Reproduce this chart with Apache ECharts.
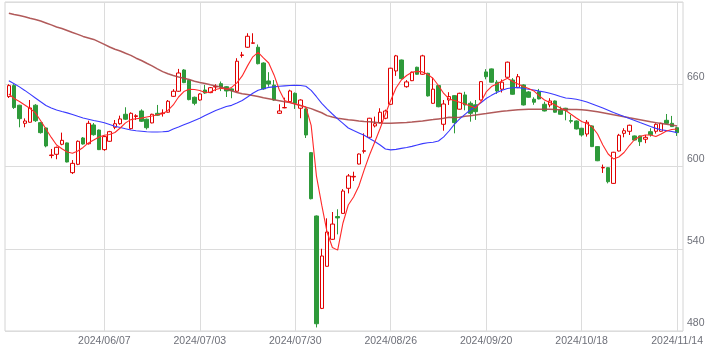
<!DOCTYPE html>
<html>
<head>
<meta charset="utf-8">
<script src="https://cdn.jsdelivr.net/npm/echarts@6/dist/echarts.min.js"></script>
<style>
html,body{margin:0;padding:0;background:#fff;}
#c{width:724px;height:358px;}
</style>
</head>
<body>
<div id="c"></div>
<script>
const dates = [
'2024/05/14','2024/05/15','2024/05/16','2024/05/17','2024/05/20','2024/05/21','2024/05/22','2024/05/23','2024/05/24','2024/05/27',
'2024/05/28','2024/05/29','2024/05/30','2024/05/31','2024/06/03','2024/06/04','2024/06/05','2024/06/06','2024/06/07','2024/06/10',
'2024/06/11','2024/06/12','2024/06/13','2024/06/14','2024/06/17','2024/06/18','2024/06/19','2024/06/20','2024/06/21','2024/06/24',
'2024/06/25','2024/06/26','2024/06/27','2024/06/28','2024/07/01','2024/07/02','2024/07/03','2024/07/04','2024/07/05','2024/07/08',
'2024/07/09','2024/07/10','2024/07/11','2024/07/12','2024/07/16','2024/07/17','2024/07/18','2024/07/19','2024/07/22','2024/07/23',
'2024/07/24','2024/07/25','2024/07/26','2024/07/29','2024/07/30','2024/07/31','2024/08/01','2024/08/02','2024/08/05','2024/08/06',
'2024/08/07','2024/08/08','2024/08/09','2024/08/13','2024/08/14','2024/08/15','2024/08/16','2024/08/19','2024/08/20','2024/08/21',
'2024/08/22','2024/08/23','2024/08/26','2024/08/27','2024/08/28','2024/08/29','2024/08/30','2024/09/02','2024/09/03','2024/09/04',
'2024/09/05','2024/09/06','2024/09/09','2024/09/10','2024/09/11','2024/09/12','2024/09/13','2024/09/17','2024/09/18','2024/09/19',
'2024/09/20','2024/09/24','2024/09/25','2024/09/26','2024/09/27','2024/09/30','2024/10/01','2024/10/02','2024/10/03','2024/10/04',
'2024/10/07','2024/10/08','2024/10/09','2024/10/10','2024/10/11','2024/10/15','2024/10/16','2024/10/17','2024/10/18','2024/10/21',
'2024/10/22','2024/10/23','2024/10/24','2024/10/25','2024/10/28','2024/10/29','2024/10/30','2024/10/31','2024/11/01','2024/11/05',
'2024/11/06','2024/11/07','2024/11/08','2024/11/11','2024/11/12','2024/11/13','2024/11/14'
];
const tickLabels = ['2024/06/07','2024/07/03','2024/07/30','2024/08/26','2024/09/20','2024/10/18','2024/11/14'];
const priceTicks = [480, 540, 600, 660, 720];

const opens = [
651,659,644.7,631.5,632.3,644.7,632,628.1,608,608.9,
616.2,617.2,595.5,601.6,620.8,616.6,630.3,626.6,612.3,618.4,
628.6,631.2,638.1,627.6,636.5,640.5,634.5,631.8,638.8,638.6,
639.6,651.2,654.9,670.4,662.9,650.5,648.5,655.8,653.9,658,
660.4,658.2,656.6,654.9,681,687,689.9,687,675.5,662.4,
659.3,638.8,642.8,647.3,653.4,642.5,642,610.1,563.9,496.5,
527.2,546.9,563.5,565.8,584.1,592.4,601.8,611.1,621.3,629.6,
632,635.2,645.4,669.7,677.7,658.2,662.6,672.4,667.3,668,
646.1,659,630.8,648.5,651.7,641.8,652.2,646.1,645,648.5,
669,671.2,661.5,656.4,665.1,663.1,657.5,659.5,654.4,649.1,
654.6,645.4,644.9,647.8,641,642.5,633.5,633.2,627.9,623.7,
629.6,614.5,599,599.1,587.7,611.3,624.2,625.7,622.3,622.3,
619.9,625.4,625.7,625.7,633.7,631.5,628.3
];
const closes = [
659,643,634.9,633.2,642.7,633.4,624.7,615,608.4,614,
619.1,603.3,602.3,618.4,616.4,631.5,623.2,612.3,621.8,625.4,
631.2,634.7,634.5,638.8,637,633,628.3,638.1,637.4,639,
647.6,654.9,668.2,661.2,648.8,646.1,652.9,653.6,657.5,658.4,
657.8,655.1,655.3,676.8,681.4,695,690.2,675,656.6,660.2,
648.5,640.5,643,655.1,646.1,648.5,623,576.5,485.3,534.7,
552.2,558,562.5,582.1,593.1,592.8,609.1,611.5,635.2,631.2,
639.6,640.5,671.7,680.7,664.1,661.7,668.8,667.3,680.7,651.5,
656.4,643.6,645.6,651,632,653.4,644.9,638.8,640,661.9,
665.5,661.5,655.1,661.5,676.1,652.7,665.5,644.9,650.5,646.9,
649.3,640.5,647.8,639.6,638.1,641,633,627.4,623,632.3,
614.5,604.2,599.3,588.9,610.4,622.8,626.1,630.1,619.3,618.1,
621.3,623.2,630.8,631.5,631.5,629.1,624.7
];
const lows = [
650,642,628.6,628.6,632,632.5,624,614,606,605.3,
615.5,603,594.5,601,616,616,622.5,612,611.5,618,
627.2,630.5,634,627,633.9,632.5,627,631.5,637,636.4,
639.3,650.8,654.5,660.8,648.3,644.7,648,653,653.5,655,
655,650.7,649.8,654.5,679.4,686.5,689.5,674.5,656,658.2,
648,638.3,642.5,647,642,635.2,620.8,576,482.6,496,
527,546.5,550.5,565.5,580.4,589.4,601.5,609.5,621,628.5,
631.5,634.5,645,666.1,663.6,657.5,662.3,667,667,651,
645.8,643.2,626.1,644.9,624.2,641.5,641,632.7,634,648.2,
663.6,661.2,653,654,664.8,652.4,657.2,644.5,650.2,645,
649,640.2,643.2,639.3,637.8,633.7,631.5,627,621.8,621.8,
614.2,603.9,595.3,587.7,587.4,611,621.3,623,619,615,
617,621.8,624,625.4,631.2,628.8,622.3
];
const highs = [
660,660,645,635.1,648.5,645.5,632.5,628.5,612.8,614.5,
624.7,617.5,604.7,619,621.5,633.4,631.7,627,622.5,626,
633.9,637.1,643.2,639.5,638.1,641.7,635,638.5,644.9,641.7,
648.5,656.4,671.2,671,663.3,651,653.4,659.5,658,660,
662,658.7,657,679,683.6,697.2,697.2,689,676,668.8,
663.1,645.4,650.2,656,654,649,642.5,610.5,564.3,540,
562.2,566.8,568.8,583.5,594.5,596.2,609.5,624.2,635.5,636.4,
642.5,641.5,672,681.4,678,663,669.2,672.8,681.5,668.4,
664.8,659.4,648.5,654.2,652,653.8,654.5,647.5,648.5,662.3,
671,671.5,663,663.5,676.5,664.5,667.5,660,655,650.5,
656.6,647.3,649.8,648.2,643.7,642.8,637.6,633.6,628.2,633.9,
630,614.8,601.4,599.4,610.7,623.8,627.9,630.5,622.6,622.6,
623,627.9,631.5,631.9,638.3,636.9,628.6
];
const ma5 = [
652.9,649.6,647.4,644.9,642.3,639.1,633.4,627.4,621.2,615.7,
613,610.6,609.6,611.3,613.9,617.2,619.3,621.5,622.8,623.4,
624.8,628.1,631.8,634.2,634.8,635.3,636.1,636.8,637.8,638.5,
640.9,644.9,650.7,654.7,656.4,656.2,655.5,654,654.4,656.2,
657.1,656.4,657.7,661,666.1,673.4,680,683.2,679.2,675.5,
666.8,655.8,648.2,646.7,645.6,644.5,643.4,630,593,571.8,
552.2,540.9,539,558.8,571.9,577.7,585.8,597.5,608.4,617.9,
627.7,638.3,648.2,657.3,663.1,666.4,668.8,669.4,669,667.2,
664.2,659.1,653.3,649.3,648.2,646.9,645.6,644.2,642.7,647.1,
654.4,658.3,660.2,662.4,664.4,662,660.2,658.4,656.9,655.1,
651.5,648.5,646.7,644.9,642.7,640.9,638.1,635.4,632.8,631.4,
628.8,623.7,615.7,609.1,605.5,606.9,610.2,615.3,619.7,621.9,
623,623,621.9,623.7,625.9,627,627.4
];
const ma25 = [
662.6,660.4,658.1,655.5,652.8,650,647.2,644.5,642.7,641.2,
640.1,639.1,638,636.6,635.4,634.5,633.6,632.8,631.9,630.6,
629.3,628.5,627.5,626.6,626.1,625.7,625.3,625.2,625.2,625.3,
625.6,627.4,628.8,630.4,632,633.6,635.2,637.2,639.1,640.9,
642.3,643.8,644.6,646.3,648.2,650.7,653.4,655.6,656.7,657.7,
658.1,658.5,658.8,659.1,659.2,659.1,658.5,655.5,650.9,646.1,
642,638.3,634.7,631.4,628.1,626.2,624.5,622.8,620.4,618.2,
615.7,612.8,612.1,612.5,613.2,613.9,614.7,615.7,616.7,617.3,
617.7,618.6,621.6,625.9,630.7,634.7,638,641.2,643.8,646.4,
649.6,651.9,654,655.6,656.9,657.4,657.7,656.9,656.4,655.8,
655,654.4,653.4,652.3,651,650,649.6,649.1,648.2,647,
645.6,644.2,642.7,641.1,639.4,638,636.4,635,633.6,632.1,
630.7,629.2,627.8,626.8,626.2,625.5,624.7
];
const ma75 = [
711.8,710.9,710.1,709.3,708.2,707.2,706.1,704.7,703.3,701.8,
700.7,699.2,697.7,696.4,694.9,693.8,692.7,690.9,689.1,687.2,
685.5,684.3,682.6,681.1,679,677.3,675.3,673.4,671.2,669.2,
667.7,666.4,665.3,664.4,663.4,662.2,661.3,660.6,659.6,658.8,
658,656.7,655.3,654,653.1,652.5,651.8,651.1,650.2,649.5,
648.7,648,647.3,646.6,645.6,644.5,643.3,642.2,640.7,639.2,
637.1,636.1,635.2,634.7,634.1,633.7,633.2,632.8,632.6,632.2,
631.8,631.6,631.5,631.7,631.9,632.1,632.4,632.8,633.2,633.8,
634.2,634.7,635.2,635.9,635.7,636,636.6,637.1,637.6,638.2,
638.6,639.2,639.8,640.3,640.6,641,641.4,641.6,641.8,641.8,
641.8,641.8,641.7,641.5,641.4,641.8,641.6,641.6,641.4,641,
640.5,639.9,639.2,638.5,637.7,637,636.3,635.5,634.8,634.1,
633.4,632.6,632,631.4,630.8,630.2,629.6
];

const candles = dates.map((d, i) => [opens[i], closes[i], lows[i], highs[i]]);
const isTick = (idx, val) => tickLabels.indexOf(val) >= 0;

const chart = echarts.init(document.getElementById('c'), null, {renderer: 'canvas'});
const FONT = 'Liberation Sans, Arial, sans-serif';
chart.setOption({
  animation: false,
  backgroundColor: '#fff',
  grid: [
    {left: 5, top: 2, width: 678, height: 329, show: true, borderColor: '#d4d4d4', borderWidth: 1, backgroundColor: 'transparent'},
    {left: 8.85, top: 2, width: 668.25, height: 329, show: false}
  ],
  xAxis: [
    {type: 'value', gridIndex: 0, min: 0, max: 1, show: false},
    {
      type: 'category', gridIndex: 1, data: dates, boundaryGap: false,
      axisLine: {show: false}, axisTick: {show: false},
      axisLabel: {interval: isTick, margin: 5, color: '#6e7079', fontSize: 10.5, fontFamily: FONT},
      splitLine: {show: true, interval: isTick, lineStyle: {color: '#dcdcdc', width: 1}}
    }
  ],
  yAxis: [
    {
      type: 'value', gridIndex: 0, position: 'right', min: priceTicks[0], max: priceTicks[priceTicks.length - 1], interval: 60,
      axisLine: {show: false}, axisTick: {show: false},
      axisLabel: {margin: 4, showMaxLabel: false, verticalAlign: 'bottom', padding: [0, 0, 2, 0], color: '#6e7079', fontSize: 10.5, fontFamily: FONT},
      splitLine: {show: true, lineStyle: {color: '#dcdcdc', width: 1}}
    },
    {type: 'value', gridIndex: 1, min: priceTicks[0], max: priceTicks[priceTicks.length - 1], show: false}
  ],
  series: [
    {
      type: 'candlestick', xAxisIndex: 1, yAxisIndex: 1, data: candles, barWidth: 4,
      itemStyle: {color: '#ffffff', color0: '#2e9a3a', borderColor: '#e00000', borderColor0: '#2e9a3a', borderWidth: 1}
    },
    {type: 'line', xAxisIndex: 1, yAxisIndex: 1, data: ma75, showSymbol: false, lineStyle: {color: '#a84848', width: 1.5, opacity: 0.9}, z: 3},
    {type: 'line', xAxisIndex: 1, yAxisIndex: 1, data: ma25, showSymbol: false, lineStyle: {color: '#3a3aff', width: 1.1}, z: 3},
    {type: 'line', xAxisIndex: 1, yAxisIndex: 1, data: ma5, showSymbol: false, lineStyle: {color: '#ff2a2a', width: 1.1}, z: 3}
  ]
});
</script>
</body>
</html>
